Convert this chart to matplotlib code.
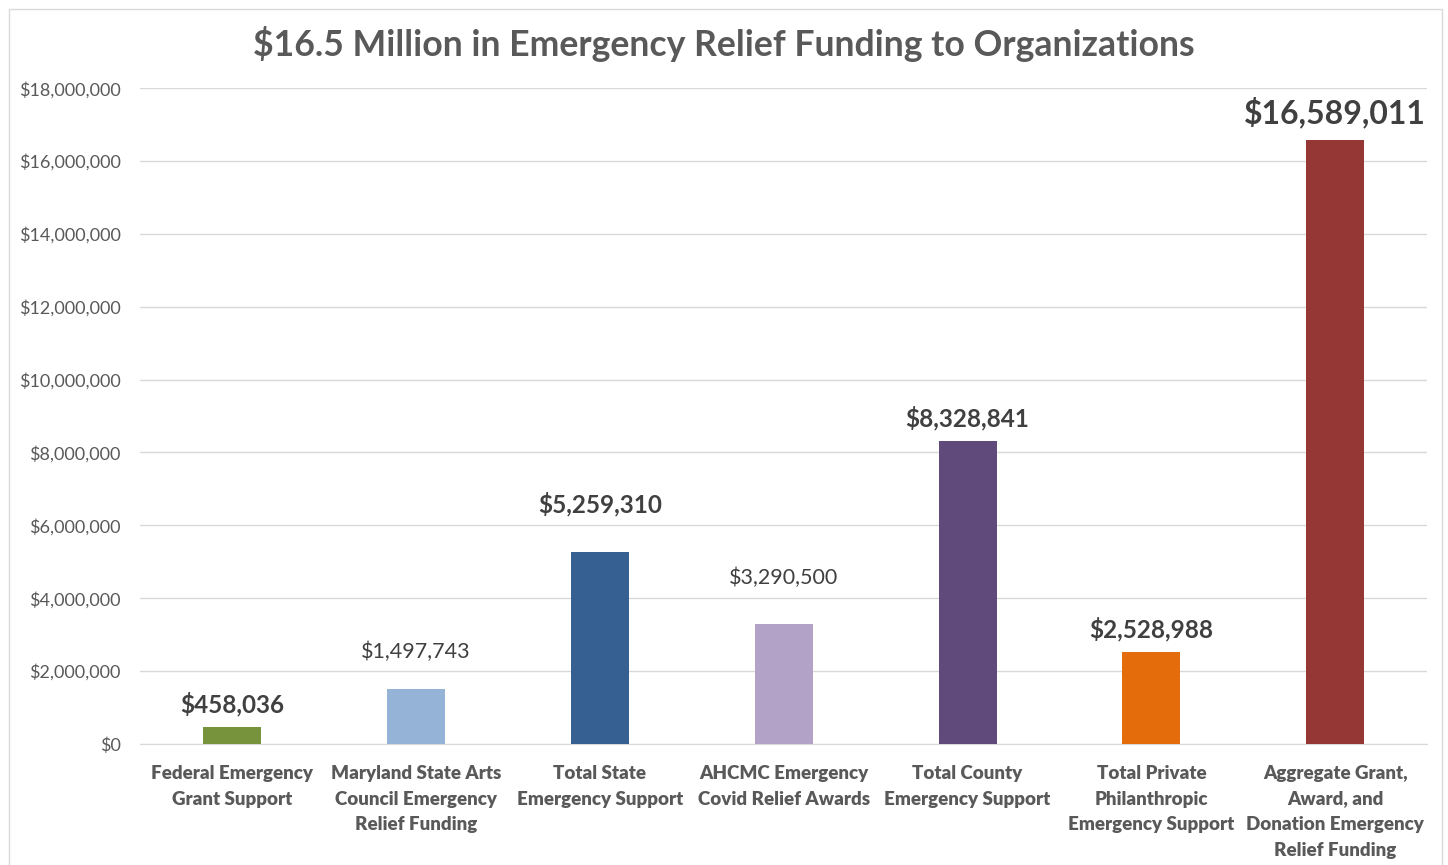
import numpy as np
import matplotlib.pyplot as plt
from matplotlib.patches import Rectangle
from matplotlib.ticker import FuncFormatter
import matplotlib.transforms as mtransforms

plt.rcParams['font.family'] = ['Lato', 'DejaVu Sans']

#___chart data___#
categories = ["Federal Emergency\nGrant Support",
              "Maryland State Arts\nCouncil Emergency\nRelief Funding",
              "Total State\nEmergency Support",
              "AHCMC Emergency\nCovid Relief Awards",
              "Total County\nEmergency Support",
              "Total Private\nPhilanthropic\nEmergency Support",
              "Aggregate Grant,\nAward, and\nDonation Emergency\nRelief Funding"]
values = [458036, 1497743, 5259310, 3290500, 8328841, 2528988, 16589011]
bar_colors = ["#77933C", "#95B3D7", "#366092", "#B3A2C7", "#604A7B", "#E46C0A", "#953735"]
label_bold = [True, False, True, False, True, True, True]
label_size = [17.5, 15.5, 17.5, 15.5, 17.5, 17.5, 23]
label_offset = [16.5, 27, 35, 33, 16, 16, 19.5]  # points above bar top (text centre)

grey = "#595959"

fig = plt.figure(figsize=(14.48, 8.65), dpi=100)
ax = fig.add_axes([0.0967, 0.140, 0.889, 0.758])

x = np.arange(len(categories))
ax.bar(x, values, width=0.315, color=bar_colors, zorder=3)

#___value labels___#
for xi, v, b, s, off in zip(x, values, label_bold, label_size, label_offset):
    ax.annotate("${:,}".format(v), (xi, v), xytext=(0, off), textcoords="offset points",
                ha="center", va="center", fontsize=s,
                fontweight="bold" if b else "normal", color="#404040")

#___category labels (drawn as text so bold sticks)___#
trans = mtransforms.blended_transform_factory(ax.transData, ax.transAxes)
for xi, c in zip(x, categories):
    ax.text(xi, -0.032, c, transform=trans, ha="center", va="top", fontsize=13.5,
            fontweight="heavy", color=grey, linespacing=1.62)

#___axes formatting___#
ax.set_xlim(-0.5, len(categories) - 0.5)
ax.set_ylim(0, 18000000)
ax.set_yticks(np.arange(0, 18000001, 2000000))
ax.yaxis.set_major_formatter(FuncFormatter(lambda v, p: "${:,.0f}".format(v)))
ax.set_xticks([])
ax.tick_params(axis="y", labelsize=13, labelcolor=grey, length=0, pad=14)
ax.grid(axis="y", color="#D9D9D9", linewidth=1, zorder=0)
for sp in ["top", "right", "left"]:
    ax.spines[sp].set_visible(False)
ax.spines["bottom"].set_color("#D9D9D9")

fig.text(0.5, 0.949, "$16.5 Million in Emergency Relief Funding to Organizations",
         ha="center", va="center", fontsize=25.7, fontweight="bold", color=grey)

# light border round the chart area
fig.patches.append(Rectangle((0.006, -0.01), 0.99, 1.0, transform=fig.transFigure,
                             fill=False, edgecolor="#D9D9D9", linewidth=1))

fig.savefig("out.png", dpi=100)
